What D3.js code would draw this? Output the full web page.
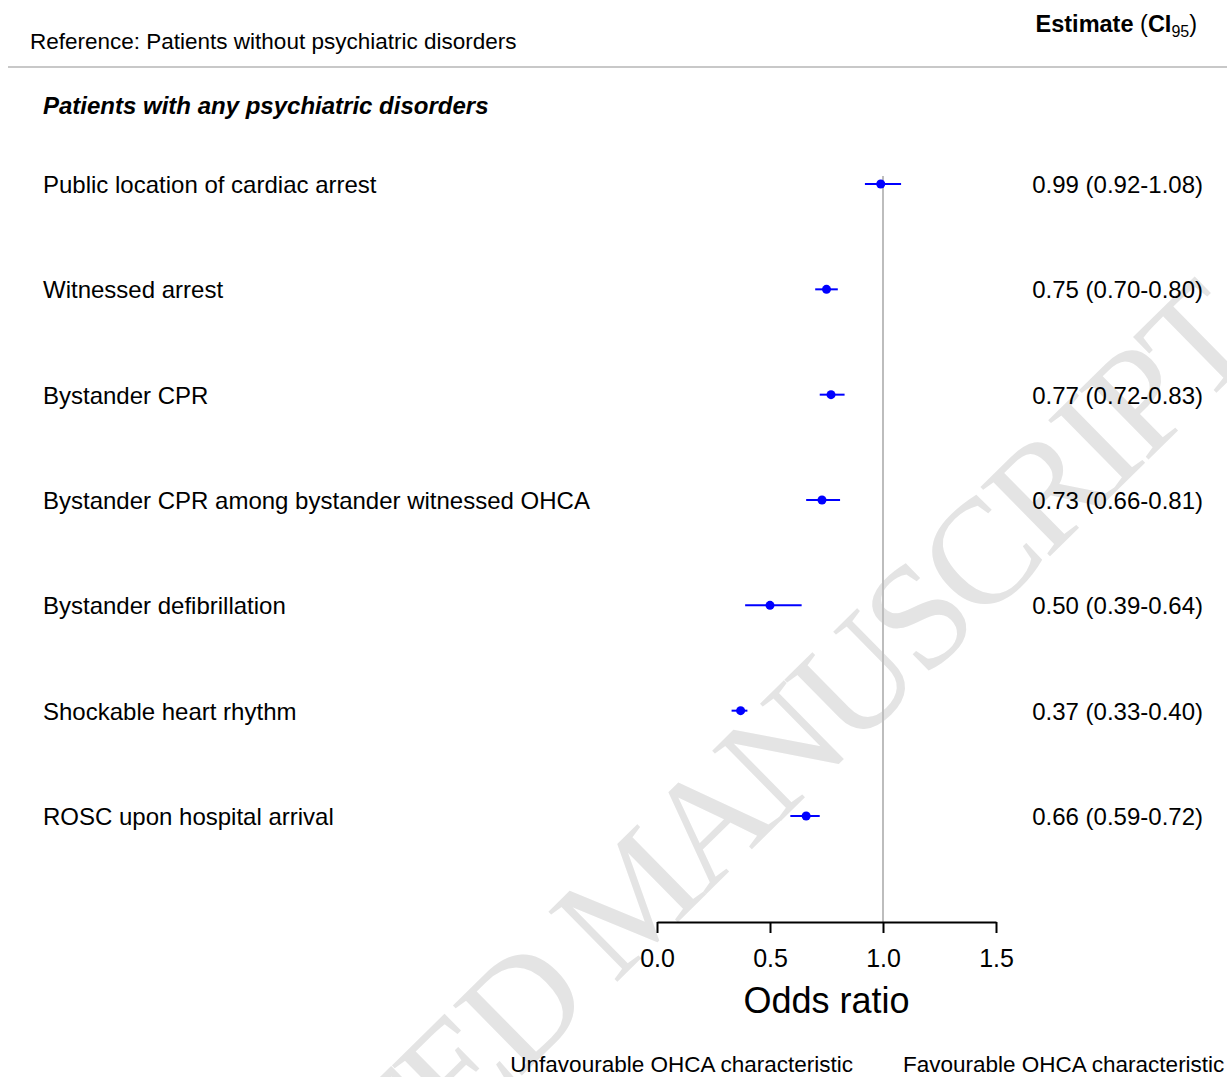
<!DOCTYPE html>
<html>
<head>
<meta charset="utf-8">
<script src="https://cdn.jsdelivr.net/npm/d3@7"></script>
<style>
  html, body { margin: 0; padding: 0; background: #fff; }
  svg { display: block; font-family: "Liberation Sans", Arial, sans-serif; }
</style>
</head>
<body>
<svg id="chart" width="1227" height="1077"></svg>
<script>
// Outcome characteristics, odds ratios and 95% confidence limits
const characteristics = [
  "Public location of cardiac arrest",
  "Witnessed arrest",
  "Bystander CPR",
  "Bystander CPR among bystander witnessed OHCA",
  "Bystander defibrillation",
  "Shockable heart rhythm",
  "ROSC upon hospital arrival"
];
const estimates = [0.99, 0.75, 0.77, 0.73, 0.50, 0.37, 0.66];
const lowerCI   = [0.92, 0.70, 0.72, 0.66, 0.39, 0.33, 0.59];
const upperCI   = [1.08, 0.80, 0.83, 0.81, 0.64, 0.40, 0.72];
const axisTicks = [0, 0.5, 1.0, 1.5];

const rows = characteristics.map((c, i) => ({
  label: c, est: estimates[i], lo: lowerCI[i], hi: upperCI[i]
}));

const svg = d3.select("#chart");
const W = 1227, H = 1077;

// faint diagonal watermark behind the plot
svg.append("text")
  .attr("transform", "translate(1261,349) rotate(-44.5)")
  .attr("text-anchor", "end")
  .attr("font-family", "'Liberation Serif', 'Times New Roman', serif")
  .attr("font-size", 150)
  .attr("letter-spacing", -6)
  .attr("fill", "#e4e4e4")
  .text("ACCEPTED MANUSCRIPT");

const x = d3.scaleLinear().domain([0, 1.5]).range([657, 996]);
const y = d3.scalePoint().domain(characteristics).range([184, 816]);

// header
svg.append("text")
  .attr("x", 30).attr("y", 49)
  .attr("font-size", 22.5).attr("fill", "#000")
  .text("Reference: Patients without psychiatric disorders");

const hdr = svg.append("text")
  .attr("x", 1197).attr("y", 32)
  .attr("text-anchor", "end")
  .attr("font-size", 23.5).attr("fill", "#000");
hdr.append("tspan").attr("font-weight", "bold").text("Estimate ");
hdr.append("tspan").text("(");
hdr.append("tspan").attr("font-weight", "bold").text("CI");
hdr.append("tspan").attr("font-size", 16).attr("dy", 5).text("95");
hdr.append("tspan").attr("dy", -5).text(")");

svg.append("line")
  .attr("x1", 8).attr("x2", W).attr("y1", 67).attr("y2", 67)
  .attr("stroke", "#c8c8c8").attr("stroke-width", 2);

svg.append("text")
  .attr("x", 43).attr("y", 114)
  .attr("font-size", 24).attr("font-weight", "bold").attr("font-style", "italic")
  .text("Patients with any psychiatric disorders");

// null-effect reference line at OR = 1
svg.append("line")
  .attr("x1", x(1)).attr("x2", x(1))
  .attr("y1", y(characteristics[0]) - 8).attr("y2", 922)
  .attr("stroke", "#bdbdbd").attr("stroke-width", 2);

// row labels and estimate text
const g = svg.append("g");
g.selectAll("text.label").data(rows).join("text")
  .attr("class", "label")
  .attr("x", 43).attr("y", d => y(d.label) + 9)
  .attr("font-size", 24)
  .text(d => d.label);

const fmt = d3.format(".2f");
g.selectAll("text.value").data(rows).join("text")
  .attr("class", "value")
  .attr("x", 1203).attr("y", d => y(d.label) + 9)
  .attr("text-anchor", "end")
  .attr("font-size", 24)
  .text(d => `${fmt(d.est)} (${fmt(d.lo)}-${fmt(d.hi)})`);

// confidence intervals and point estimates
g.selectAll("line.ci").data(rows).join("line")
  .attr("class", "ci")
  .attr("x1", d => x(d.lo)).attr("x2", d => x(d.hi))
  .attr("y1", d => y(d.label)).attr("y2", d => y(d.label))
  .attr("stroke", "#0000ff").attr("stroke-width", 2);

g.selectAll("circle.est").data(rows).join("circle")
  .attr("class", "est")
  .attr("cx", d => x(d.est)).attr("cy", d => y(d.label))
  .attr("r", 4.5)
  .attr("fill", "#0000ff");

// x axis
const axis = svg.append("g")
  .attr("transform", "translate(0,922)")
  .call(d3.axisBottom(x).tickValues(axisTicks).tickFormat(d3.format(".1f"))
    .tickSize(11).tickSizeOuter(0).tickPadding(16));
axis.select(".domain").attr("stroke", "#000").attr("stroke-width", 2);
axis.selectAll(".tick line").attr("stroke", "#000").attr("stroke-width", 2);
axis.selectAll(".tick text")
  .attr("font-size", 25).attr("font-family", "'Liberation Sans', Arial, sans-serif")
  .attr("fill", "#000");

svg.append("text")
  .attr("x", (x(0) + x(1.5)) / 2).attr("y", 1013)
  .attr("text-anchor", "middle")
  .attr("font-size", 36)
  .text("Odds ratio");

// direction labels
svg.append("text")
  .attr("x", 853).attr("y", 1072)
  .attr("text-anchor", "end")
  .attr("font-size", 22.5)
  .text("Unfavourable OHCA characteristic");
svg.append("text")
  .attr("x", 903).attr("y", 1072)
  .attr("font-size", 22.5)
  .text("Favourable OHCA characteristic");
</script>
</body>
</html>
